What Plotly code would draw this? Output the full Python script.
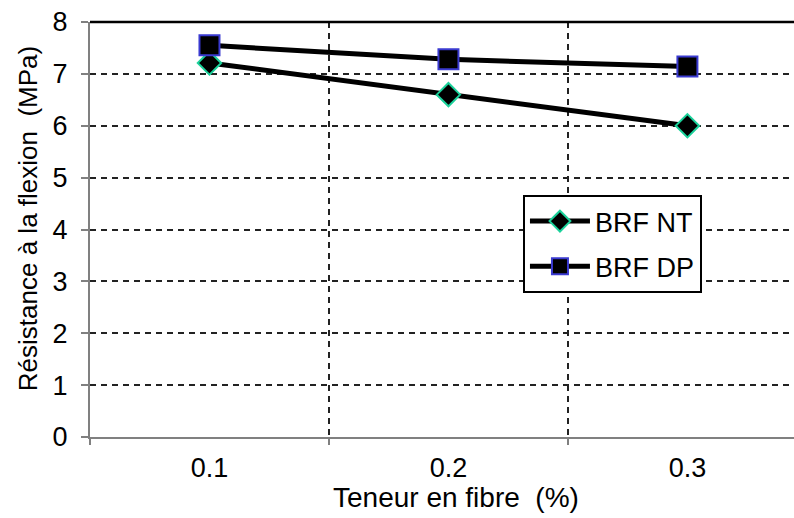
import plotly.graph_objects as go

fibre = [0.1, 0.2, 0.3]
tick_labels = ["0.1", "0.2", "0.3"]
brf_nt = [7.21, 6.60, 6.00]
brf_dp = [7.55, 7.28, 7.14]

fig = go.Figure()
fig.add_trace(go.Scatter(
    x=fibre, y=brf_nt, name="BRF NT", mode="lines+markers", legendgroup="nt",
    line=dict(color="black", width=5),
    marker=dict(symbol="diamond", size=18, color="black",
                line=dict(color="#1ad19a", width=2)),
))
fig.add_trace(go.Scatter(
    x=fibre, y=brf_dp, name="BRF DP", mode="lines+markers", legendgroup="dp",
    line=dict(color="black", width=5),
    marker=dict(symbol="square", size=20, color="black",
                line=dict(color="#3a3ad0", width=2)),
))

font_family = "Liberation Sans, Arial, sans-serif"

fig.update_layout(
    width=794, height=518,
    margin=dict(l=90, r=0, t=22, b=81),
    paper_bgcolor="white", plot_bgcolor="white",
    font=dict(family=font_family, size=27, color="black"),
    showlegend=True,
    legend=dict(
        x=0.615, y=0.583, xanchor="left", yanchor="top",
        bordercolor="black", borderwidth=2, bgcolor="white",
        font=dict(size=27), tracegroupgap=7, itemwidth=60,
    ),
    xaxis=dict(
        range=[0.05, 0.3446],
        tickvals=fibre, ticktext=tick_labels,
        ticks="", showgrid=False, zeroline=False,
        showline=True, linecolor="#808080", linewidth=2,
        tickfont=dict(size=27), ticklabelstandoff=6,
        minor=dict(tickvals=[0.05, 0.15, 0.25], ticks="outside", ticklen=6,
                   tickcolor="#808080", tickwidth=2,
                   showgrid=True, gridcolor="#222222", gridwidth=1.6,
                   griddash="6px,5px"),
    ),
    yaxis=dict(
        range=[0, 8], dtick=1, tick0=0,
        ticks="outside", ticklen=7, tickcolor="#808080", tickwidth=2,
        showgrid=True, gridcolor="#222222", gridwidth=1.6, griddash="6px,5px",
        zeroline=False, showline=True, linecolor="#808080", linewidth=2,
        tickfont=dict(size=27), ticklabelstandoff=8,
    ),
    annotations=[
        dict(text="Teneur en fibre  (%)", xref="paper", yref="paper",
             x=0.52, y=-0.145, xanchor="center", yanchor="middle",
             showarrow=False, font=dict(size=28)),
        dict(text="Résistance à la flexion  (MPa)", xref="paper", yref="paper",
             x=-0.088, y=0.525, xanchor="center", yanchor="middle",
             textangle=-90, showarrow=False, font=dict(size=26)),
    ],
    shapes=[dict(type="line", xref="paper", yref="paper", x0=0, x1=1, y0=1, y1=1,
                 line=dict(color="black", width=2.5), layer="above")],
)

fig.write_html("out.html")
